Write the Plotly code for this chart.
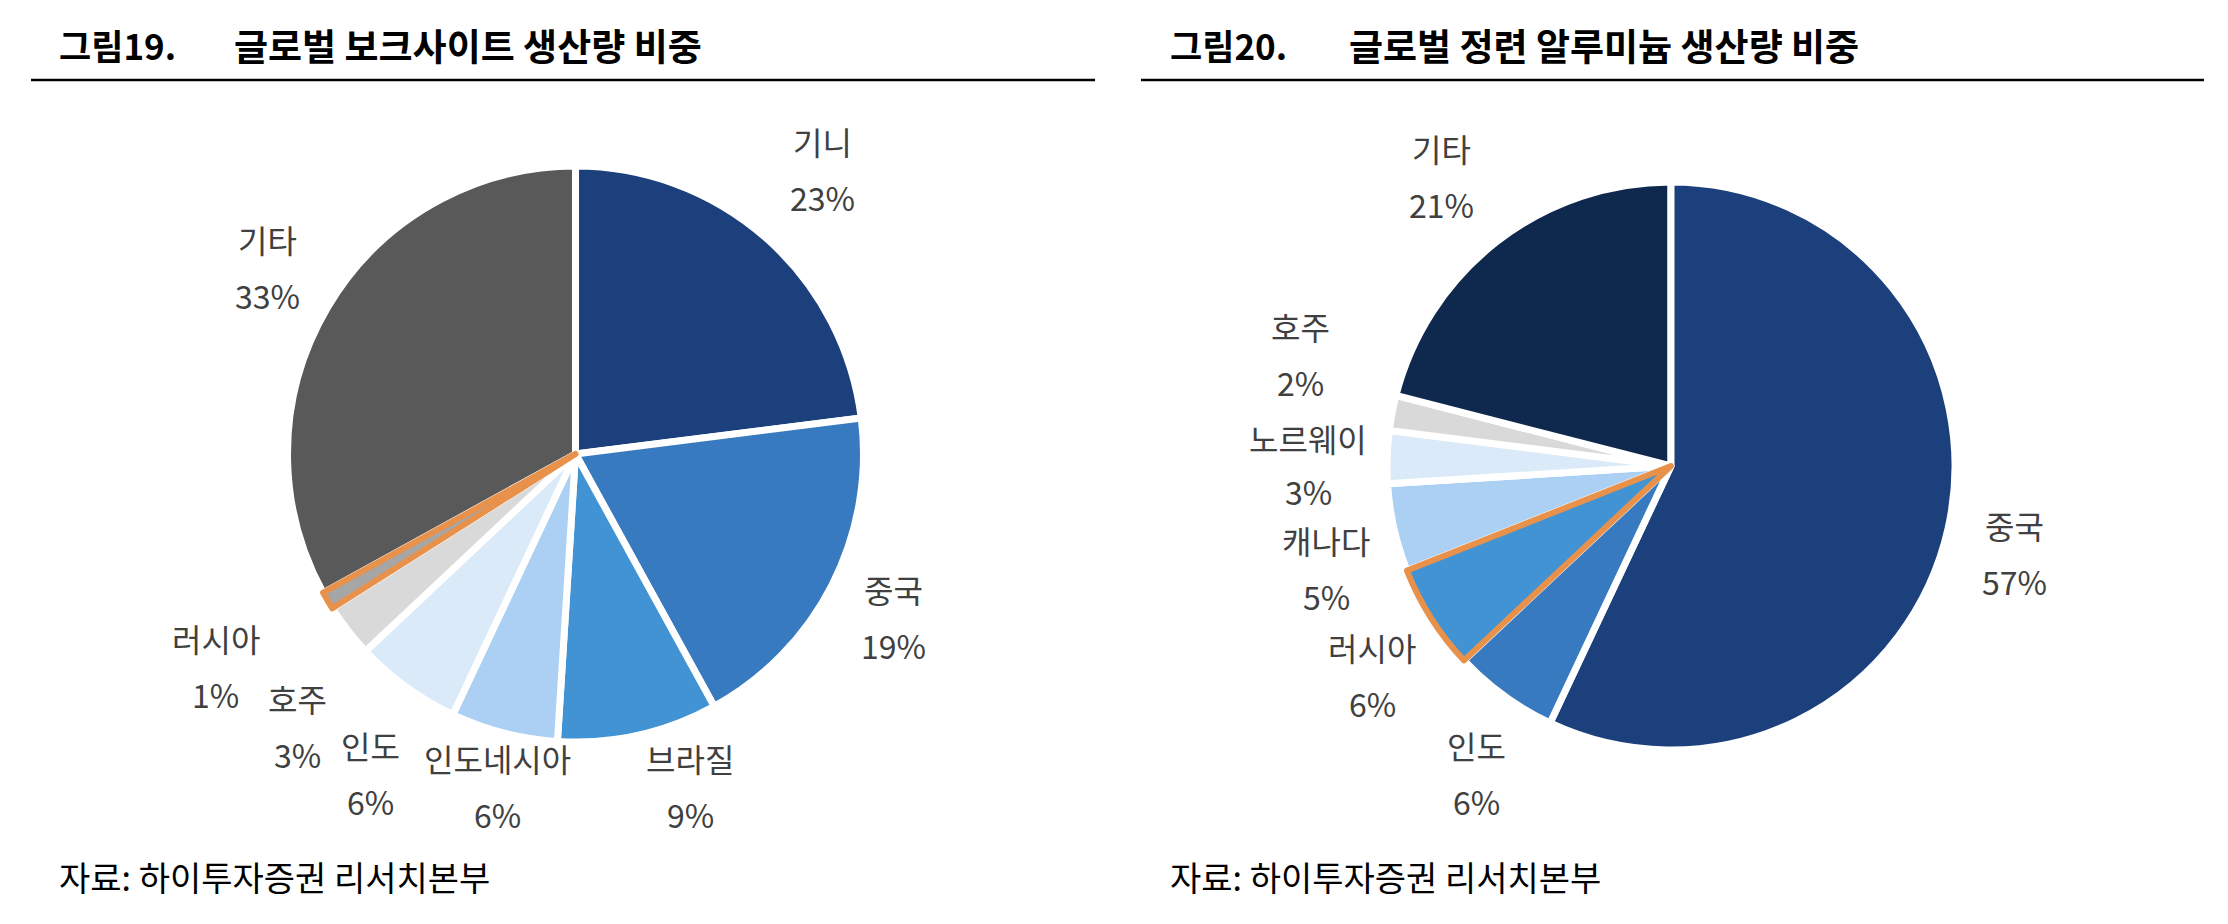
import plotly.graph_objects as go

# 그림19. 글로벌 보크사이트 생산량 비중 (clockwise from 기타 so 러시아 is drawn last)
bx_labels = ["기타", "기니", "중국", "브라질", "인도네시아", "인도", "호주", "러시아"]
bx_values = [33, 23, 19, 9, 6, 6, 3, 1]
bx_colors = ["#595959", "#1b407c", "#377abf", "#4293d4", "#abd0f4", "#dbeaf9", "#d9d9d9", "#a6a6a6"]

# 그림20. 글로벌 정련 알루미늄 생산량 비중 (clockwise from 캐나다 so 러시아 is drawn last)
al_labels = ["캐나다", "노르웨이", "호주", "기타", "중국", "인도", "러시아"]
al_values = [5, 3, 2, 21, 57, 6, 6]
al_colors = ["#abd0f4", "#dbeaf9", "#d9d9d9", "#0f284d", "#1b407c", "#377abf", "#4293d4"]

titles = [("그림19.", "글로벌 보크사이트 생산량 비중"), ("그림20.", "글로벌 정련 알루미늄 생산량 비중")]
source = "자료: 하이투자증권 리서치본부"

W, H = 2228, 924
FONT = "Noto Sans CJK KR"
ORANGE = "#e8914a"


def domain(cx, cy, r):
    return dict(x=[(cx - r) / W, (cx + r) / W], y=[1 - (cy + r) / H, 1 - (cy - r) / H])


def start_angle(values, before):
    # rotation so that the first slice starts after `before` percent, clockwise from 12 o'clock
    return 360 * before / sum(values)


fig = go.Figure()
fig.add_trace(go.Pie(
    labels=bx_labels, values=bx_values, sort=False, direction="clockwise",
    rotation=start_angle(bx_values, sum(bx_values) - bx_values[0]),
    marker=dict(colors=bx_colors,
                line=dict(color=["white"] * 7 + [ORANGE], width=[7] * 7 + [6])),
    textinfo="none", showlegend=False,
    domain=domain(575.5, 454, 288),
))
fig.add_trace(go.Pie(
    labels=al_labels, values=al_values, sort=False, direction="clockwise",
    rotation=start_angle(al_values, sum(al_values[4:])),
    marker=dict(colors=al_colors,
                line=dict(color=["white"] * 6 + [ORANGE], width=[7] * 6 + [6])),
    textinfo="none", showlegend=False,
    domain=domain(1671, 466, 284),
))

# label positions in pixels (name line, percent line below)
bx_pos = {"기니": (822, 141), "중국": (893, 589), "브라질": (690, 758), "인도네시아": (497, 758),
          "인도": (370, 745), "호주": (297, 698), "러시아": (216, 638), "기타": (267, 239)}
al_pos = {"기타": (1442, 148), "호주": (1300, 326), "노르웨이": (1308, 438), "캐나다": (1326, 540),
          "러시아": (1372, 647), "인도": (1476, 745), "중국": (2014, 525)}

ann = []


def txt(x, y, s, size=32, color="#404040", anchor="center", bold=False):
    ann.append(dict(x=x / W, y=1 - y / H, xref="paper", yref="paper", text=f"<b>{s}</b>" if bold else s,
                    showarrow=False, xanchor=anchor, yanchor="middle",
                    font=dict(family=FONT, size=size, color=color)))


for labels, values, pos in [(bx_labels, bx_values, bx_pos), (al_labels, al_values, al_pos)]:
    for lab, val in zip(labels, values):
        x, y = pos[lab]
        dy = 53 if lab == "노르웨이" else 56
        txt(x, y, lab)
        txt(x, y + dy, f"{val}%")

for (fig_no, name), x0, x1 in zip(titles, [57, 1168], [232, 1347]):
    txt(x0, 45, fig_no, size=35, color="black", anchor="left", bold=True)
    txt(x1, 45, name, size=37, color="black", anchor="left", bold=True)
    txt(x0, 876, source, size=34, color="black", anchor="left")

shapes = [dict(type="line", xref="paper", yref="paper", x0=a / W, x1=b / W, y0=1 - 80 / H, y1=1 - 80 / H,
               line=dict(color="black", width=2.5)) for a, b in [(31, 1095), (1141, 2204)]]

fig.update_layout(width=W, height=H, margin=dict(l=0, r=0, t=0, b=0),
                  paper_bgcolor="white", plot_bgcolor="white",
                  annotations=ann, shapes=shapes, font=dict(family=FONT))
fig.write_html("out.html", config={"displayModeBar": False},
               post_script="document.body.style.margin='0';")
